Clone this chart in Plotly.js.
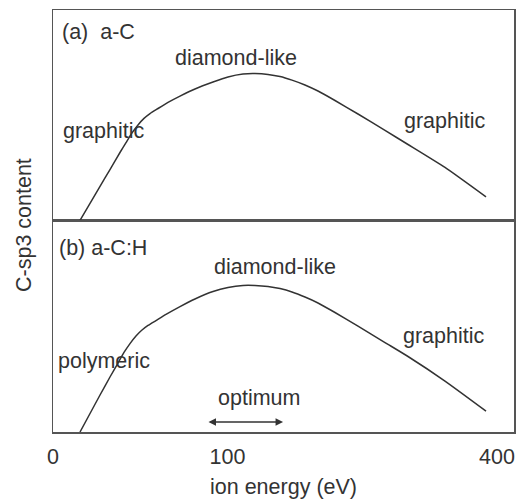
<!DOCTYPE html>
<html>
<head>
<meta charset="utf-8">
<script src="https://cdn.plot.ly/plotly-3.0.1.min.js"></script>
<style>html,body{margin:0;padding:0;background:#fff;}#chart{width:518px;height:499px;}</style>
</head>
<body>
<div id="chart"></div>
<script>
// Schematic x positions (0-100 across the axis; axis is non-linear in eV)
const xA = [5.86, 8.03, 10.20, 12.36, 14.53, 15.84, 17.14, 18.44, 19.74, 21.04, 22.78, 24.95, 27.55, 30.80, 34.71, 37.96, 41.21, 43.82, 46.64, 49.24, 51.84, 54.66, 57.48, 61.17, 66.16, 72.02, 77.01, 85.03, 93.93];
const yA = [0, 8.1, 16.2, 24.2, 32.3, 37.0, 41.6, 45.4, 48.5, 50.8, 53.2, 56.1, 59.1, 62.5, 65.8, 68.2, 69.6, 69.8, 69.4, 68.4, 66.7, 64.4, 61.5, 57.0, 50.6, 42.8, 36.1, 25.2, 11.2];
const xB = [5.86, 8.03, 10.20, 12.36, 14.10, 15.40, 16.70, 18.00, 19.31, 20.61, 22.34, 24.51, 27.55, 30.80, 34.71, 37.96, 41.21, 43.82, 46.64, 49.24, 51.84, 54.66, 57.48, 61.17, 66.16, 72.02, 77.01, 85.03, 93.93];
const yB = [0, 8.75, 17.5, 26.0, 32.6, 37.6, 41.8, 45.4, 48.2, 50.4, 52.7, 55.6, 59.3, 62.9, 66.4, 68.3, 69.3, 69.3, 68.8, 67.8, 66.2, 63.8, 61.0, 56.5, 50.1, 42.3, 35.7, 24.1, 9.9];
const tickPos = [0, 37.85, 96.3];
const tickLabels = ['0', '100', '400'];
const optimumRange = [33.4, 49.9];

const FONT = '"Liberation Sans", Arial, Helvetica, sans-serif';
const FS = 21.5;
const TXT = '#333333';
const FRAME = '#555555';

const traces = [
  {x: xA, y: yA, xaxis: 'x2', yaxis: 'y', mode: 'lines', line: {color: '#333', width: 1.5, shape: 'spline', smoothing: 0.5}, hoverinfo: 'skip'},
  {x: xB, y: yB, xaxis: 'x', yaxis: 'y2', mode: 'lines', line: {color: '#333', width: 1.5, shape: 'spline', smoothing: 0.5}, hoverinfo: 'skip'}
];

const axCommon = {showgrid: false, zeroline: false, showline: true, mirror: true, linecolor: FRAME, linewidth: 1.5};

function ann(text, x, y, yref, xanchor) {
  return {text: text, x: x, y: y, xref: yref === 'y' ? 'x2' : 'x', yref: yref, showarrow: false,
          xanchor: xanchor || 'center', yanchor: 'middle', font: {family: FONT, size: FS, color: TXT}};
}

const layout = {
  width: 518, height: 499,
  margin: {l: 53, r: 4, t: 10, b: 67},
  paper_bgcolor: '#fff', plot_bgcolor: '#fff',
  showlegend: false,
  font: {family: FONT, size: FS, color: TXT},
  xaxis: Object.assign({}, axCommon, {
    domain: [0, 1], anchor: 'y2', range: [0, 100],
    tickmode: 'array', tickvals: tickPos, ticktext: tickLabels,
    ticks: 'outside', ticklen: 5, tickcolor: 'rgba(0,0,0,0)',
    tickfont: {family: FONT, size: FS, color: TXT},
    title: {text: 'ion energy (eV)', font: {family: FONT, size: FS, color: TXT}, standoff: 10}
  }),
  xaxis2: Object.assign({}, axCommon, {
    domain: [0, 1], anchor: 'y', range: [0, 100], matches: 'x', showticklabels: false, ticks: ''
  }),
  yaxis: Object.assign({}, axCommon, {domain: [0.5012, 1], anchor: 'x2', range: [0, 100], showticklabels: false, ticks: ''}),
  yaxis2: Object.assign({}, axCommon, {domain: [0, 0.5012], anchor: 'x', range: [0, 100], showticklabels: false, ticks: ''}),
  annotations: [
    ann('(a)  a-C', 1.5, 89.7, 'y', 'left'),
    ann('diamond-like', 39.8, 77.4, 'y'),
    ann('graphitic', 11.06, 42.7, 'y'),
    ann('graphitic', 85.1, 47.3, 'y'),
    ann('(b) a-C:H', 0.87, 87.2, 'y2', 'left'),
    ann('diamond-like', 48.05, 78.2, 'y2'),
    ann('polymeric', 11.06, 33.8, 'y2'),
    ann('graphitic', 84.9, 45.6, 'y2'),
    ann('optimum', 44.7, 16.1, 'y2'),
    {x: optimumRange[1], y: 4.7, ax: optimumRange[0], ay: 4.7, xref: 'x', yref: 'y2', axref: 'x', ayref: 'y2',
     text: '', showarrow: true, arrowside: 'end+start', arrowhead: 2, arrowsize: 1, arrowwidth: 1.5, arrowcolor: '#333',
     standoff: 0, startstandoff: 0},
    {text: 'C-sp3 content', x: -0.0629, y: 0.4905, xref: 'paper', yref: 'paper', showarrow: false, textangle: -90,
     xanchor: 'center', yanchor: 'middle', font: {family: FONT, size: FS, color: TXT}}
  ]
};

Plotly.newPlot('chart', traces, layout, {displayModeBar: false, staticPlot: true});
</script>
</body>
</html>
